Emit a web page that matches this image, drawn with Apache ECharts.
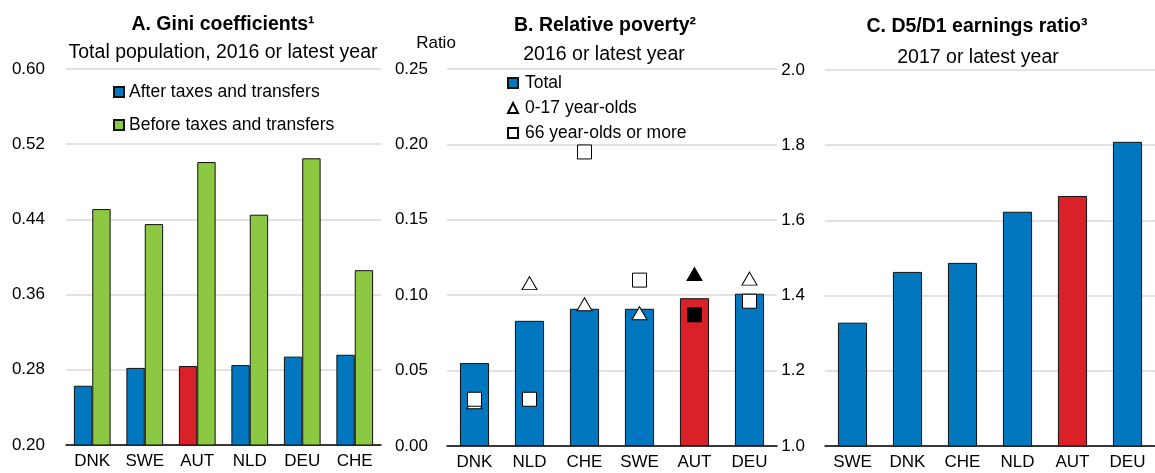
<!DOCTYPE html>
<html>
<head>
<meta charset="utf-8">
<script src="https://cdn.jsdelivr.net/npm/echarts@6/dist/echarts.min.js"></script>
<style>html,body{margin:0;padding:0;background:#fff;}#c{width:1155px;height:473px;}</style>
</head>
<body>
<div id="c"></div>
<script>
// Panel A: Gini coefficients
const giniCountries = ['DNK', 'SWE', 'AUT', 'NLD', 'DEU', 'CHE'];
const giniAfter  = [0.263, 0.282, 0.284, 0.285, 0.294, 0.296];
const giniBefore = [0.451, 0.435, 0.501, 0.445, 0.505, 0.386];
const giniTicks  = [0.20, 0.28, 0.36, 0.44, 0.52, 0.60];

// Panel B: Relative poverty
const povCountries = ['DNK', 'NLD', 'CHE', 'SWE', 'AUT', 'DEU'];
const povTotal  = [0.055, 0.083, 0.091, 0.091, 0.098, 0.101];
const povYoung  = [0.029, 0.108, 0.094, 0.088, 0.114, 0.111];
const povOld    = [0.031, 0.031, 0.195, 0.110, 0.087, 0.096];

// Panel C: D5/D1 earnings ratio
const earnCountries = ['SWE', 'DNK', 'CHE', 'NLD', 'AUT', 'DEU'];
const earnRatio = [1.328, 1.463, 1.487, 1.623, 1.665, 1.809];

const highlight = 'AUT';
const BLUE = '#0077BF', GREEN = '#8CC841', RED = '#DA2128', GRID = '#D9D9D9';
const FONT = 'Liberation Sans, Arial, sans-serif';

function colored(vals, cats, base, hi) {
  return vals.map((v, i) => cats[i] === highlight ? { value: v, itemStyle: { color: hi } } : v);
}

const chart = echarts.init(document.getElementById('c'), null, { renderer: 'canvas' });

const titleStyle = { fontFamily: FONT, fontSize: 19.5, fontWeight: 'bold', color: '#000' };
const subStyle = { fontFamily: FONT, fontSize: 19.5, fontWeight: 'normal', color: '#000' };

const axisLabelStyle = { fontFamily: FONT, fontSize: 17, color: '#000' };

function yAxis(gridIndex, min, max, interval, digits, margin, extra) {
  return Object.assign({
    type: 'value', gridIndex, min, max, interval,
    axisLine: { show: false }, axisTick: { show: false },
    splitLine: { show: true, lineStyle: { color: GRID, width: 1.5 } },
    axisLabel: Object.assign({ margin, formatter: v => v.toFixed(digits) }, axisLabelStyle)
  }, extra || {});
}
function xAxis(gridIndex, cats) {
  return {
    type: 'category', gridIndex, data: cats,
    axisLine: { show: true, lineStyle: { color: '#000', width: 1.5 } },
    axisTick: { show: false },
    axisLabel: Object.assign({ margin: 8, interval: 0 }, axisLabelStyle)
  };
}

const option = {
  animation: false,
  backgroundColor: '#fff',
  title: [
    { text: 'A. Gini coefficients¹', left: 218, top: 10, textAlign: 'center', textStyle: titleStyle },
    { text: 'Total population, 2016 or latest year', left: 218, top: 38, textAlign: 'center', textStyle: subStyle },
    { text: 'B. Relative poverty²', left: 600, top: 11, textAlign: 'center', textStyle: titleStyle },
    { text: '2016 or latest year', left: 599, top: 40, textAlign: 'center', textStyle: subStyle },
    { text: 'C. D5/D1 earnings ratio³', left: 972, top: 12, textAlign: 'center', textStyle: titleStyle },
    { text: '2017 or latest year', left: 973, top: 43, textAlign: 'center', textStyle: subStyle }
  ],
  legend: [
    {
      data: ['After taxes and transfers', 'Before taxes and transfers'],
      orient: 'vertical', left: 108, top: 78, itemWidth: 10, itemHeight: 10, itemGap: 15,
      icon: 'rect',
      textStyle: { fontFamily: FONT, fontSize: 17.5, color: '#000', padding: [0, 0, 0, 0] },
      selectedMode: false
    },
    {
      data: [{ name: 'Total', icon: 'rect' }, { name: '0-17 year-olds' }, { name: '66 year-olds or more' }],
      orient: 'vertical', left: 502, top: 69, itemWidth: 10, itemHeight: 10, itemGap: 7,
      textStyle: { fontFamily: FONT, fontSize: 17.5, color: '#000', padding: [0, 0, 0, 2] },
      selectedMode: false
    }
  ],
  grid: [
    { left: 66, top: 69, width: 315, height: 376 },
    { left: 447, top: 69, width: 330, height: 377 },
    { left: 825, top: 70, width: 336, height: 376 }
  ],
  xAxis: [xAxis(0, giniCountries), xAxis(1, povCountries), xAxis(2, earnCountries)],
  yAxis: [
    yAxis(0, 0.2, 0.6, 0.08, 2, 21, {
      axisTick: { show: false, customValues: giniTicks },
      axisLabel: Object.assign({ margin: 21, customValues: giniTicks, formatter: v => v.toFixed(2) }, axisLabelStyle)
    }),
    yAxis(1, 0, 0.25, 0.05, 2, 19, {
      name: 'Ratio', nameLocation: 'end', nameGap: 17,
      nameTextStyle: { fontFamily: FONT, fontSize: 17, color: '#000', align: 'center', padding: [0, 0, 0, -22] }
    }),
    yAxis(2, 1.0, 2.0, 0.2, 1, 20)
  ],
  series: [
    {
      name: 'After taxes and transfers', type: 'bar', xAxisIndex: 0, yAxisIndex: 0,
      data: colored(giniAfter, giniCountries, BLUE, RED),
      itemStyle: { color: BLUE, borderColor: '#111', borderWidth: 1 },
      barGap: '0%', barCategoryGap: '30%'
    },
    {
      name: 'Before taxes and transfers', type: 'bar', xAxisIndex: 0, yAxisIndex: 0,
      data: giniBefore,
      itemStyle: { color: GREEN, borderColor: '#111', borderWidth: 1 },
      barGap: '0%', barCategoryGap: '30%'
    },
    {
      name: 'Total', type: 'bar', xAxisIndex: 1, yAxisIndex: 1,
      data: colored(povTotal, povCountries, BLUE, RED),
      itemStyle: { color: BLUE, borderColor: '#111', borderWidth: 1 },
      barCategoryGap: '47%'
    },
    {
      name: '0-17 year-olds', type: 'scatter', xAxisIndex: 1, yAxisIndex: 1,
      symbol: 'triangle', symbolSize: [15, 13],
      data: colored(povYoung, povCountries, '#fff', '#000'),
      itemStyle: { color: '#fff', borderColor: '#000', borderWidth: 1, opacity: 1 }
    },
    {
      name: '66 year-olds or more', type: 'scatter', xAxisIndex: 1, yAxisIndex: 1,
      symbol: 'rect', symbolSize: 14,
      data: colored(povOld, povCountries, '#fff', '#000'),
      itemStyle: { color: '#fff', borderColor: '#000', borderWidth: 1, opacity: 1 }
    },
    {
      name: 'D5/D1 earnings ratio', type: 'bar', xAxisIndex: 2, yAxisIndex: 2,
      data: colored(earnRatio, earnCountries, BLUE, RED),
      itemStyle: { color: BLUE, borderColor: '#111', borderWidth: 1 },
      barCategoryGap: '47%'
    }
  ]
};
chart.setOption(option);
</script>
</body>
</html>
